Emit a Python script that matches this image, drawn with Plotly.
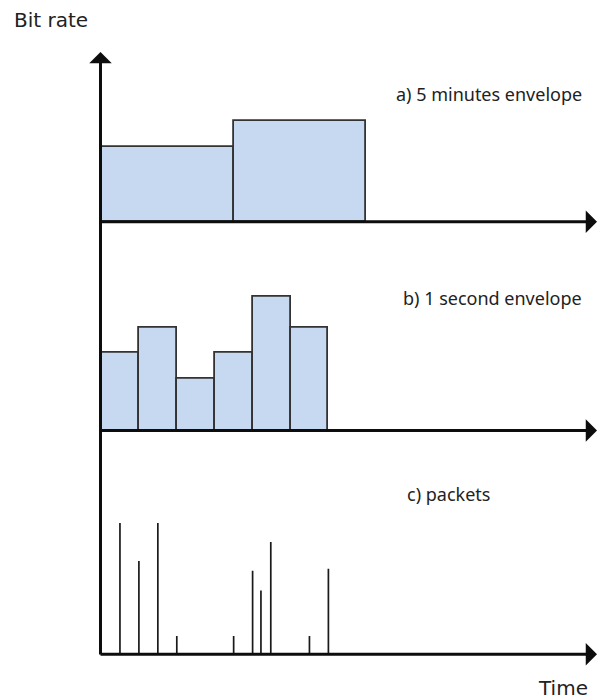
import plotly.graph_objects as go

# Five-minute envelope: start time (s), duration (s), bit rate (arbitrary units)
env5_start = [0.0, 3.5]
env5_width = [3.5, 3.5]
env5_rate = [2.9, 3.9]

# One-second envelope
env1_start = [0, 1, 2, 3, 4, 5]
env1_rate = [3.0, 4.0, 2.0, 3.0, 5.2, 4.0]

# Individual packets: arrival time (s) and size
pkt_time = [0.5, 1.0, 1.5, 2.0, 3.5, 4.0, 4.22, 4.48, 5.5, 6.0]
pkt_size = [5.09, 3.62, 5.09, 0.71, 0.71, 3.24, 2.47, 4.35, 0.71, 3.32]

panel_labels = ["a) 5 minutes envelope", "b) 1 second envelope", "c) packets"]
y_title = "Bit rate"
x_title = "Time"

# ---- layout geometry (pixels) ----
W, H = 598, 700
X0 = 101.0            # pixel column of t = 0
PX_PER_S = 37.9       # horizontal scale
PX_PER_UNIT = 25.8    # vertical scale
baselines = [221.7, 430.5, 654.3]
tops = [0.0, baselines[0], baselines[1]]

FILL = "#c6d9f0"
EDGE = "#333333"
INK = "#0d0d0d"

fig = go.Figure()

# a) five-minute envelope
fig.add_trace(go.Bar(
    x=env5_start, y=env5_rate, width=env5_width, offset=0,
    marker=dict(color=FILL, line=dict(color=EDGE, width=1.8)),
    xaxis="x", yaxis="y", showlegend=False, hoverinfo="skip",
))

# b) one-second envelope
fig.add_trace(go.Bar(
    x=env1_start, y=env1_rate, width=[1] * len(env1_start), offset=0,
    marker=dict(color=FILL, line=dict(color=EDGE, width=1.8)),
    xaxis="x2", yaxis="y2", showlegend=False, hoverinfo="skip",
))

# c) packets as vertical strokes
px, py = [], []
for t, s in zip(pkt_time, pkt_size):
    px += [t, t, None]
    py += [0, s, None]
fig.add_trace(go.Scatter(
    x=px, y=py, mode="lines",
    line=dict(color="#1a1a1a", width=1.7),
    xaxis="x3", yaxis="y3", showlegend=False, hoverinfo="skip",
))

x_range = [-X0 / PX_PER_S, (W - X0) / PX_PER_S]
hidden = dict(visible=False, fixedrange=True)

layout_axes = {}
for i, (b, t) in enumerate(zip(baselines, tops)):
    sfx = "" if i == 0 else str(i + 1)
    layout_axes["xaxis" + sfx] = dict(domain=[0, 1], range=x_range,
                                      anchor="y" + sfx, **hidden)
    layout_axes["yaxis" + sfx] = dict(domain=[1 - b / H, 1 - t / H],
                                      range=[0, (b - t) / PX_PER_UNIT],
                                      anchor="x" + sfx, **hidden)

fig.update_layout(
    width=W, height=H,
    margin=dict(l=0, r=0, t=0, b=0),
    paper_bgcolor="white", plot_bgcolor="white",
    bargap=0,
    **layout_axes,
)

# axis arrows
def arrow(x_tip, y_tip, dx, dy):
    fig.add_annotation(
        x=x_tip / W, y=1 - y_tip / H, xref="paper", yref="paper",
        ax=dx, ay=dy, axref="pixel", ayref="pixel",
        text="", showarrow=True, arrowhead=1, arrowsize=1.25,
        arrowwidth=3, arrowcolor=INK, standoff=0, startstandoff=0,
    )

arrow(100.5, 52, 0, 656 - 52)
for b in baselines:
    arrow(603, b, -(603 - 99), 0)

label_font = dict(family="Noto Sans", size=18, color="#222222")
title_font = dict(family="DejaVu Sans", size=20, color="#222222")

fig.add_annotation(x=12 / W, y=1 - 20 / H, xref="paper", yref="paper",
                   text=y_title, showarrow=False, xanchor="left",
                   yanchor="middle", font=title_font)
fig.add_annotation(x=590 / W, y=1 - 688 / H, xref="paper", yref="paper",
                   text=x_title, showarrow=False, xanchor="right",
                   yanchor="middle", font=title_font)

label_pos = [(584, 94), (584, 298), (492, 494)]
for txt, (lx, ly) in zip(panel_labels, label_pos):
    fig.add_annotation(x=lx / W, y=1 - ly / H, xref="paper", yref="paper",
                       text=txt, showarrow=False, xanchor="right",
                       yanchor="middle", font=label_font)

fig.write_html("out.html")
